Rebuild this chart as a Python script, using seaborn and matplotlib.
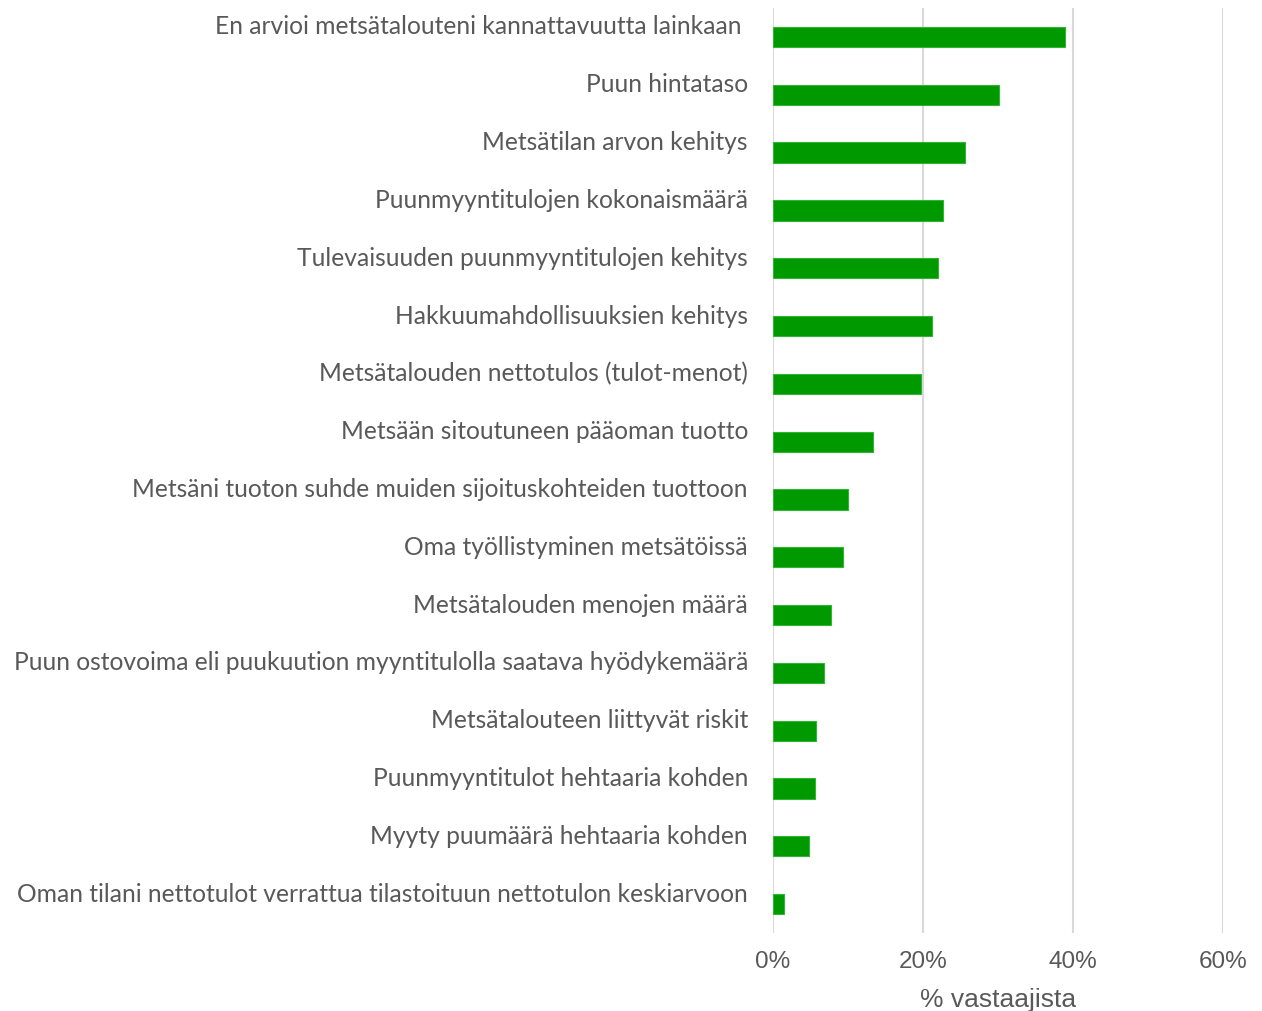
import matplotlib
matplotlib.use('Agg')
import matplotlib.pyplot as plt
import matplotlib.transforms as mtransforms
import pandas as pd
import seaborn as sns

# Survey answers, share of respondents (%)
categories = [
    'En arvioi metsätalouteni kannattavuutta lainkaan ',
    'Puun hintataso',
    'Metsätilan arvon kehitys',
    'Puunmyyntitulojen kokonaismäärä',
    'Tulevaisuuden puunmyyntitulojen kehitys',
    'Hakkuumahdollisuuksien kehitys',
    'Metsätalouden nettotulos (tulot-menot)',
    'Metsään sitoutuneen pääoman tuotto',
    'Metsäni tuoton suhde muiden sijoituskohteiden tuottoon',
    'Oma työllistyminen metsätöissä',
    'Metsätalouden menojen määrä',
    'Puun ostovoima eli puukuution myyntitulolla saatava hyödykemäärä',
    'Metsätalouteen liittyvät riskit',
    'Puunmyyntitulot hehtaaria kohden',
    'Myyty puumäärä hehtaaria kohden',
    'Oman tilani nettotulot verrattua tilastoituun nettotulon keskiarvoon',
]
shares = [39.0, 30.1, 25.6, 22.7, 22.0, 21.2, 19.8, 13.4, 10.0, 9.3, 7.7, 6.8, 5.7, 5.6, 4.8, 1.5]
xticks = [0, 20, 40, 60]

df = pd.DataFrame({'category': categories, 'share': shares})

sns.set_style('white')
plt.rcParams['font.family'] = ['Lato', 'DejaVu Sans']

fig = plt.figure(figsize=(12.62, 10.11), dpi=100)
ax = fig.add_axes([0.6125, 0.0772, 0.3565, 0.9148])

sns.barplot(data=df, x='share', y='category', color='#009900', width=0.35,
            edgecolor='#2fb52f', linewidth=0.8, saturation=1, ax=ax, zorder=3)

ax.set_xlim(0, 60)
ax.set_ylim(15.5, -0.5)
ax.set_xticks(xticks)
ax.set_xticklabels([f'{t}%' for t in xticks], fontfamily='Liberation Sans',
                   fontsize=17.5, color='#595959')
ax.xaxis.grid(True, color='#d9d9d9', linewidth=1.5, zorder=0)
ax.set_axisbelow(True)
for s in ax.spines.values():
    s.set_visible(False)
ax.tick_params(axis='x', length=0, pad=13)
ax.tick_params(axis='y', length=0, pad=18)
ax.set_ylabel('')
ax.set_xlabel('% vastaajista', fontfamily='Liberation Sans', fontsize=19,
              color='#595959', labelpad=11)

# category labels sit a bit above their bars
shift = mtransforms.ScaledTranslation(0, 12 / 100, fig.dpi_scale_trans)
for lbl in ax.get_yticklabels():
    lbl.set_fontsize(17.7)
    lbl.set_color('#595959')
    lbl.set_transform(lbl.get_transform() + shift)

fig.savefig('out.png', dpi=100)
